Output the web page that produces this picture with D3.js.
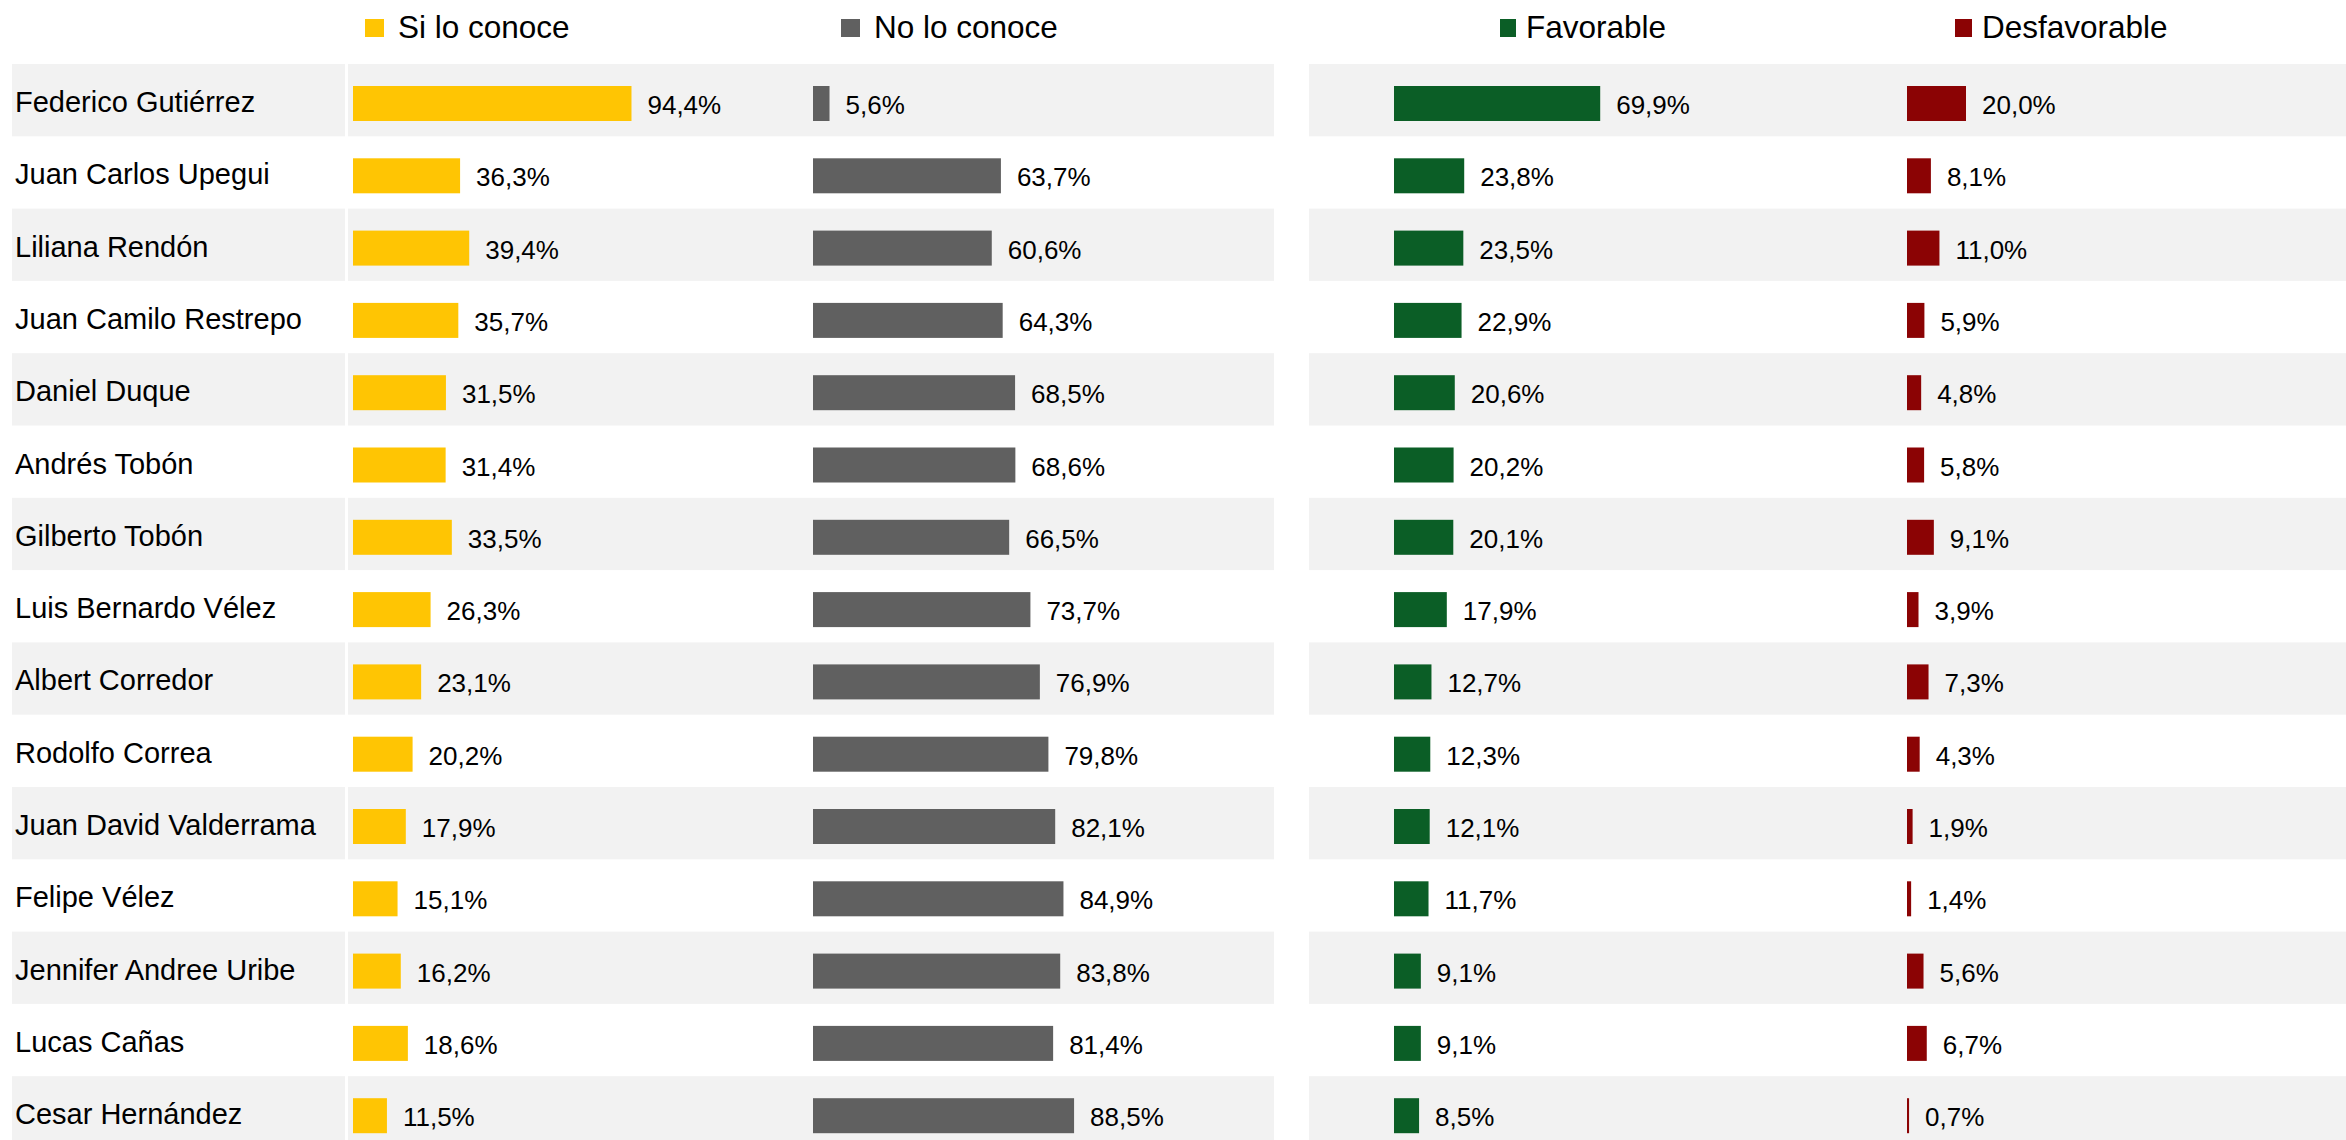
<!DOCTYPE html>
<html>
<head>
<meta charset="utf-8">
<script src="https://cdn.jsdelivr.net/npm/d3@7"></script>
<style>
  html, body { margin: 0; padding: 0; background: #fff; }
  svg { display: block; font-family: "Liberation Sans", Arial, sans-serif; }
</style>
</head>
<body>
<svg id="chart"></svg>
<script>
'use strict';

const candidates = [
    'Federico Gutiérrez', 'Juan Carlos Upegui', 'Liliana Rendón', 'Juan Camilo Restrepo',
    'Daniel Duque', 'Andrés Tobón', 'Gilberto Tobón', 'Luis Bernardo Vélez',
    'Albert Corredor', 'Rodolfo Correa', 'Juan David Valderrama', 'Felipe Vélez',
    'Jennifer Andree Uribe', 'Lucas Cañas', 'Cesar Hernández'
];
const siConoce = [94.4, 36.3, 39.4, 35.7, 31.5, 31.4, 33.5, 26.3, 23.1, 20.2, 17.9, 15.1, 16.2, 18.6, 11.5];
const noConoce = [5.6, 63.7, 60.6, 64.3, 68.5, 68.6, 66.5, 73.7, 76.9, 79.8, 82.1, 84.9, 83.8, 81.4, 88.5];
const favorable = [69.9, 23.8, 23.5, 22.9, 20.6, 20.2, 20.1, 17.9, 12.7, 12.3, 12.1, 11.7, 9.1, 9.1, 8.5];
const desfavorable = [20.0, 8.1, 11.0, 5.9, 4.8, 5.8, 9.1, 3.9, 7.3, 4.3, 1.9, 1.4, 5.6, 6.7, 0.7];
const seriesNames = ['Si lo conoce', 'No lo conoce', 'Favorable', 'Desfavorable'];

const W = 2346, H = 1140;
const svg = d3.select('#chart').attr('width', W).attr('height', H);

const pct = d3.formatLocale({decimal: ',', thousands: '.', grouping: [3], currency: ['', '']}).format('.1f');

// layout
const series = [
    {values: siConoce, color: '#FFC503', x0: 353, legendX: 365, sq: 19},
    {values: noConoce, color: '#606060', x0: 813, legendX: 841, sq: 19},
    {values: favorable, color: '#0B5E26', x0: 1394, legendX: 1500, sq: 16},
    {values: desfavorable, color: '#8B0304', x0: 1907, legendX: 1955, sq: 17}
];
const panels = [[12, 345], [348, 1274], [1309, W]];

const y = d3.scaleBand().domain(candidates).range([64, 64 + 72.3 * candidates.length]).padding(0);
const x = d3.scaleLinear().domain([0, 100]).range([0, 295]);

// stripes
const stripes = svg.append('g');
candidates.forEach((c, i) => {
    if (i % 2 !== 0) return;
    panels.forEach(([a, b]) => {
        stripes.append('rect')
            .attr('x', a).attr('y', y(c))
            .attr('width', b - a).attr('height', y.bandwidth())
            .attr('fill', '#F2F2F2');
    });
});

// row labels
svg.append('g').selectAll('text')
    .data(candidates)
    .enter()
    .append('text')
    .attr('x', 15)
    .attr('y', (d) => y(d) + 48)
    .attr('font-size', 29)
    .attr('fill', '#000')
    .text((d) => d);

// bars + values
series.forEach((s) => {
    const g = svg.append('g');
    g.selectAll('rect')
        .data(s.values)
        .enter()
        .append('rect')
        .attr('x', s.x0)
        .attr('y', (d, i) => y(candidates[i]) + 22)
        .attr('width', (d) => x(d))
        .attr('height', 35)
        .attr('fill', s.color);
    g.selectAll('text')
        .data(s.values)
        .enter()
        .append('text')
        .attr('x', (d) => s.x0 + x(d) + 16)
        .attr('y', (d, i) => y(candidates[i]) + 50)
        .attr('font-size', 26)
        .attr('fill', '#000')
        .text((d) => pct(d) + '%');
});

// legend
const legend = svg.append('g');
series.forEach((s, i) => {
    legend.append('rect')
        .attr('x', s.legendX).attr('y', 19)
        .attr('width', s.sq).attr('height', 18)
        .attr('fill', s.color);
    legend.append('text')
        .attr('x', s.legendX + s.sq + (i < 2 ? 14 : 10))
        .attr('y', 38)
        .attr('font-size', 31.5)
        .attr('fill', '#000')
        .text(seriesNames[i]);
});
</script>
</body>
</html>
